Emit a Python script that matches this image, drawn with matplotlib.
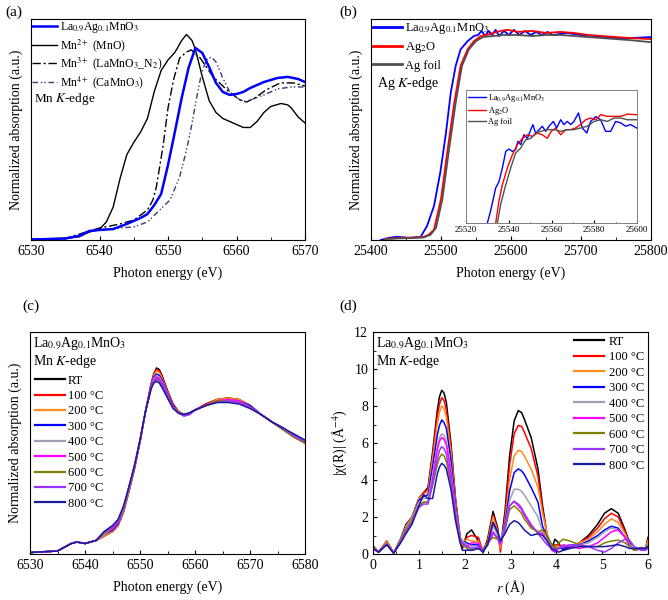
import matplotlib
matplotlib.use("Agg")
import matplotlib.pyplot as plt
from matplotlib.ticker import MultipleLocator, NullLocator

plt.rcParams['font.family'] = ['Liberation Serif', 'DejaVu Serif']
plt.rcParams['mathtext.fontset'] = 'stix'
plt.rcParams['xtick.direction'] = 'in'
plt.rcParams['ytick.direction'] = 'in'
plt.rcParams['axes.linewidth'] = 0.8

SAMPLE = "La$_{0.9}$Ag$_{0.1}$MnO$_3$"

# ---- (a) Mn K-edge XANES, references ----
e_lamo = [6530, 6535, 6537, 6538.5, 6540, 6542, 6544, 6546, 6547, 6548, 6549, 6550, 6551, 6552,
          6553, 6554, 6555, 6556, 6557, 6558, 6559, 6560, 6561, 6562, 6564, 6566, 6567.5, 6569, 6570]
mu_lamo = [0.003, 0.01, 0.027, 0.06, 0.067, 0.073, 0.107, 0.147, 0.173, 0.233, 0.307, 0.5, 0.72, 0.947,
           1.147, 1.28, 1.247, 1.153, 1.047, 0.987, 0.967, 0.973, 0.987, 1.013, 1.053, 1.08, 1.087, 1.073, 1.053]

e_mno = [6530, 6535, 6537, 6538.5, 6540, 6541, 6542, 6543, 6544, 6545, 6546, 6547, 6548, 6549, 6550,
         6551, 6552, 6552.7, 6553.5, 6554, 6555, 6556, 6557, 6558, 6559, 6560, 6561, 6562, 6563, 6564,
         6565, 6566.5, 6567.5, 6568, 6569, 6570]
mu_mno = [0.005, 0.011, 0.022, 0.053, 0.073, 0.12, 0.22, 0.41, 0.57, 0.65, 0.72, 0.81, 0.99, 1.13, 1.2,
          1.25, 1.33, 1.37, 1.33, 1.27, 1.09, 0.93, 0.85, 0.81, 0.79, 0.77, 0.75, 0.75, 0.79, 0.85,
          0.89, 0.91, 0.9, 0.88, 0.82, 0.78]

e_lmo = [6530, 6535, 6537.6, 6540, 6541.5, 6543, 6545, 6547, 6547.8, 6548.3, 6549.3, 6550, 6550.8,
         6551.7, 6552.7, 6553.4, 6554.7, 6556.6, 6558.6, 6560.5, 6561.5, 6562.9, 6564.3, 6566.4, 6568.3, 6570]
mu_lmo = [0.003, 0.01, 0.047, 0.08, 0.093, 0.107, 0.133, 0.2, 0.267, 0.353, 0.633, 0.88, 1.067,
          1.213, 1.253, 1.267, 1.213, 1.087, 1.0, 0.933, 0.92, 0.953, 1.0, 1.047, 1.047, 1.027]

e_cmo = [6530, 6535, 6537, 6539, 6541, 6543, 6545, 6547, 6548.8, 6550.3, 6551.7, 6552.7, 6553.4, 6554.2,
         6554.9, 6555.6, 6556.3, 6557, 6558, 6559, 6560, 6561.2, 6562, 6564, 6566, 6568, 6570]
mu_cmo = [0.003, 0.01, 0.02, 0.06, 0.073, 0.08, 0.087, 0.12, 0.2, 0.267, 0.42, 0.6, 0.753, 0.953,
          1.113, 1.2, 1.22, 1.187, 1.08, 0.987, 0.947, 0.92, 0.933, 0.967, 1.007, 1.02, 1.02]

# ---- (b) Ag K-edge XANES ----
e_ag_lamo = [25414, 25425, 25437, 25456, 25471, 25480, 25490, 25499, 25507, 25514, 25521, 25528, 25538,
             25547, 25553, 25558, 25563, 25568, 25573, 25578, 25583, 25590, 25597, 25604, 25612, 25620,
             25628, 25636, 25644, 25652, 25660, 25680, 25700, 25720, 25735, 25750, 25770, 25800]
mu_ag_lamo = [0.0, 0.01, 0.016, 0.01, 0.016, 0.068, 0.166, 0.33, 0.52, 0.72, 0.85, 0.93, 0.97,
              0.995, 1.0, 1.02, 0.995, 1.02, 1.0, 1.025, 0.995, 1.02, 1.0, 1.025, 1.0, 1.02,
              1.0, 1.015, 1.0, 1.015, 1.0, 1.01, 1.0, 0.995, 0.99, 0.985, 0.985, 0.99]

e_ag2o = [25420, 25440, 25460, 25475, 25482, 25490, 25500, 25509, 25519, 25528, 25538, 25547, 25557,
          25565, 25575, 25585, 25595, 25610, 25630, 25650, 25670, 25690, 25710, 25730, 25750, 25770, 25800]
mu_ag2o = [0.005, 0.01, 0.012, 0.015, 0.025, 0.05, 0.2, 0.43, 0.67, 0.85, 0.93, 0.97, 0.995,
           1.0, 1.01, 1.02, 1.025, 1.015, 1.02, 1.01, 1.015, 1.01, 1.0, 0.995, 0.99, 0.985, 0.98]

e_agfoil = [25420, 25440, 25460, 25475, 25485, 25493, 25502, 25511, 25521, 25530, 25540, 25550, 25560,
            25575, 25590, 25610, 25630, 25650, 25670, 25690, 25710, 25730, 25750, 25770, 25800]
mu_agfoil = [0.005, 0.008, 0.01, 0.012, 0.025, 0.06, 0.2, 0.43, 0.67, 0.85, 0.93, 0.97, 0.99,
             0.995, 1.0, 1.0, 0.995, 1.0, 1.0, 0.995, 0.99, 0.985, 0.98, 0.975, 0.965]

# inset, 25520-25600 eV
ie_lamo = [25530.0, 25531.5, 25533.9, 25535.4, 25537.0, 25538.6, 25540.1, 25541.7, 25543.2, 25544.3,
           25545.6, 25547.1, 25548.7, 25550.3, 25551.3, 25552.6, 25554.2, 25555.7, 25557.3, 25558.8,
           25560.9, 25562.4, 25564.3, 25565.8, 25567.4, 25569.0, 25570.5, 25572.6, 25574.4, 25576.5,
           25578.3, 25580.7, 25583.0, 25585.3, 25587.7, 25590.0, 25592.4, 25594.7, 25597.0, 25599.8]
imu_lamo = [0.55, 0.60, 0.695, 0.72, 0.777, 0.846, 0.856, 0.846, 0.853, 0.888,
            0.874, 0.915, 0.90, 0.936, 0.957, 0.92, 0.936, 0.95, 0.929, 0.95,
            0.97, 0.943, 0.977, 0.957, 0.97, 0.957, 0.97, 1.005, 0.943, 0.922,
            0.97, 0.99, 0.977, 0.929, 0.929, 0.97, 0.964, 0.95, 0.957, 0.943]
ie_ag2o = [25533.9, 25535.4, 25537.0, 25539.3, 25541.7, 25544.0, 25546.4, 25548.7, 25551.0, 25553.4,
           25555.7, 25558.0, 25559.9, 25561.9, 25564.3, 25566.6, 25569.0, 25571.3, 25573.6, 25576.0,
           25578.3, 25580.7, 25583.0, 25586.1, 25589.2, 25592.4, 25595.5, 25599.8]
imu_ag2o = [0.55, 0.64, 0.708, 0.777, 0.832, 0.874, 0.90, 0.915, 0.908, 0.922,
            0.915, 0.90, 0.929, 0.943, 0.915, 0.936, 0.936, 0.943, 0.957, 0.977,
            0.984, 0.977, 0.998, 0.991, 0.991, 0.991, 1.0, 0.998]
ie_agfoil = [25534.7, 25536.2, 25538.6, 25540.9, 25543.2, 25545.6, 25547.9, 25550.3, 25552.6, 25554.9,
             25558.0, 25561.2, 25564.3, 25567.4, 25570.5, 25573.6, 25576.7, 25579.9, 25583.0, 25586.1,
             25589.2, 25592.4, 25595.5, 25599.8]
imu_agfoil = [0.55, 0.626, 0.708, 0.777, 0.839, 0.86, 0.894, 0.90, 0.922, 0.929,
              0.936, 0.936, 0.929, 0.936, 0.936, 0.943, 0.95, 0.97, 0.977, 0.97,
              0.984, 0.984, 0.977, 0.977]

# ---- (c) in situ Mn K-edge XANES ----
temps = ["RT", "100 °C", "200 °C", "300 °C", "400 °C", "500 °C", "600 °C", "700 °C", "800 °C"]
temp_colors = ["#000000", "#FF0000", "#FF8C1A", "#0000FF", "#A0A0B4", "#FF00FF", "#808000", "#9933FF", "#1A1AA0"]

e_insitu = [6530, 6535, 6536, 6537.5, 6538.5, 6540, 6541, 6542, 6543.5, 6545, 6546, 6547, 6548, 6549,
            6550, 6551, 6552, 6552.5, 6553, 6553.5, 6554, 6555, 6556, 6557, 6558, 6559, 6560, 6562,
            6564, 6566, 6568, 6570, 6572, 6574, 6576, 6578, 6580]
pre = [0.01, 0.02, 0.04, 0.07, 0.08, 0.07, 0.08, 0.09]
mu_rt = pre + [0.12, 0.15, 0.19, 0.28, 0.42, 0.57, 0.75, 0.95, 1.13, 1.20, 1.24, 1.23, 1.19, 1.09, 1.00,
               0.95, 0.93, 0.94, 0.96, 1.00, 1.03, 1.04, 1.03, 0.99, 0.93, 0.88, 0.84, 0.79, 0.74]
mu_100 = pre + [0.12, 0.15, 0.19, 0.28, 0.42, 0.57, 0.75, 0.95, 1.13, 1.20, 1.23, 1.22, 1.18, 1.08, 1.00,
                0.95, 0.93, 0.94, 0.96, 1.00, 1.03, 1.04, 1.03, 0.99, 0.93, 0.88, 0.83, 0.78, 0.74]
mu_200 = pre + [0.12, 0.15, 0.19, 0.28, 0.42, 0.57, 0.75, 0.95, 1.12, 1.19, 1.22, 1.21, 1.17, 1.08, 0.99,
                0.95, 0.93, 0.94, 0.96, 0.99, 1.03, 1.04, 1.03, 0.99, 0.93, 0.88, 0.83, 0.78, 0.74]
mu_300 = pre + [0.13, 0.16, 0.20, 0.29, 0.43, 0.58, 0.75, 0.95, 1.12, 1.18, 1.20, 1.19, 1.16, 1.07, 0.99,
                0.94, 0.93, 0.94, 0.96, 0.99, 1.02, 1.03, 1.02, 0.99, 0.93, 0.88, 0.84, 0.79, 0.75]
mu_400 = pre + [0.13, 0.17, 0.21, 0.29, 0.43, 0.58, 0.75, 0.95, 1.11, 1.17, 1.19, 1.18, 1.15, 1.06, 0.98,
                0.94, 0.93, 0.94, 0.96, 0.99, 1.02, 1.03, 1.02, 0.98, 0.93, 0.88, 0.83, 0.78, 0.74]
mu_500 = pre + [0.14, 0.17, 0.21, 0.30, 0.44, 0.58, 0.75, 0.95, 1.11, 1.16, 1.18, 1.17, 1.14, 1.06, 0.98,
                0.94, 0.92, 0.93, 0.96, 0.99, 1.02, 1.03, 1.02, 0.98, 0.93, 0.88, 0.83, 0.78, 0.74]
mu_600 = pre + [0.14, 0.18, 0.22, 0.30, 0.44, 0.59, 0.76, 0.95, 1.10, 1.15, 1.16, 1.15, 1.12, 1.05, 0.98,
                0.94, 0.93, 0.94, 0.96, 0.99, 1.02, 1.02, 1.01, 0.98, 0.93, 0.88, 0.83, 0.78, 0.74]
mu_700 = pre + [0.15, 0.18, 0.22, 0.31, 0.45, 0.59, 0.76, 0.95, 1.10, 1.15, 1.17, 1.16, 1.13, 1.05, 0.98,
                0.94, 0.92, 0.93, 0.96, 0.99, 1.01, 1.02, 1.01, 0.98, 0.93, 0.88, 0.84, 0.79, 0.75]
mu_800 = pre + [0.15, 0.19, 0.23, 0.32, 0.45, 0.59, 0.76, 0.95, 1.10, 1.14, 1.15, 1.14, 1.11, 1.04, 0.97,
                0.94, 0.93, 0.94, 0.96, 0.99, 1.01, 1.01, 1.00, 0.97, 0.93, 0.88, 0.84, 0.80, 0.76]
mu_insitu = [mu_rt, mu_100, mu_200, mu_300, mu_400, mu_500, mu_600, mu_700, mu_800]

# ---- (d) FT-EXAFS |chi(R)| ----
r = [0, 0.12, 0.3, 0.45, 0.6, 0.72, 0.85, 1.0, 1.1, 1.2, 1.3, 1.4, 1.45, 1.5, 1.55, 1.6, 1.7, 1.8,
     1.9, 1.95, 2.05, 2.15, 2.3, 2.4, 2.5, 2.62, 2.72, 2.78, 2.88, 2.98, 3.08, 3.17, 3.24, 3.3, 3.45,
     3.6, 3.7, 3.8, 3.9, 3.97, 4.05, 4.15, 4.3, 4.5, 4.7, 4.9, 5.05, 5.2, 5.35, 5.5, 5.6, 5.7, 5.85,
     5.95, 6.0]
chi_rt = [0.45, 0.1, 0.7, 0.05, 0.8, 1.6, 2.0, 3.0, 3.3, 3.6, 5.5, 7.7, 8.5, 8.85, 8.7, 8.2, 6.0, 3.0,
          0.9, 0.3, 1.1, 1.3, 0.7, 0.05, 0.8, 2.3, 1.4, 0.3, 2.3, 5.3, 7.2, 7.75, 7.65, 7.3, 6.3,
          4.6, 2.6, 1.0, 0.3, 0.8, 0.6, 0.2, 0.35, 0.6, 1.0, 1.6, 2.2, 2.45, 2.2, 1.3, 0.6, 0.2, 0.35,
          0.3, 0.9]
chi_100 = [0.4, 0.1, 0.7, 0.05, 0.75, 1.5, 2.0, 3.0, 3.3, 3.5, 5.3, 7.4, 8.1, 8.45, 8.3, 7.8, 5.8, 2.9,
           0.9, 0.4, 0.9, 1.0, 0.9, 0.1, 0.7, 2.1, 1.3, 0.1, 2.0, 4.8, 6.5, 6.95, 6.9, 6.6, 5.7,
           4.2, 2.4, 1.0, 0.3, 0.5, 0.5, 0.3, 0.4, 0.6, 0.9, 1.4, 1.9, 2.2, 2.0, 1.2, 0.5, 0.2, 0.3,
           0.3, 0.8]
chi_200 = [0.4, 0.1, 0.7, 0.05, 0.75, 1.5, 2.0, 3.0, 3.2, 3.4, 5.1, 7.0, 7.65, 8.0, 7.85, 7.4, 5.5, 2.8,
           0.9, 0.6, 0.8, 0.7, 0.7, 0.1, 0.6, 2.0, 1.2, 0.3, 1.8, 4.0, 5.3, 5.6, 5.55, 5.3, 4.6,
           3.6, 2.2, 1.1, 0.4, 0.4, 0.4, 0.3, 0.4, 0.6, 0.8, 1.2, 1.6, 1.9, 1.7, 1.1, 0.5, 0.2, 0.3,
           0.3, 0.7]
chi_300 = [0.35, 0.1, 0.6, 0.05, 0.7, 1.4, 1.9, 2.9, 3.1, 3.2, 4.7, 6.4, 6.95, 7.25, 7.1, 6.8, 5.1, 2.6,
           0.9, 0.7, 0.6, 0.5, 0.5, 0.2, 0.5, 1.7, 1.1, 0.7, 1.6, 3.4, 4.4, 4.6, 4.5, 4.3, 3.6,
           2.8, 1.5, 0.9, 0.5, 0.3, 0.3, 0.3, 0.4, 0.5, 0.7, 1.0, 1.3, 1.5, 1.4, 0.9, 0.5, 0.3, 0.3,
           0.3, 0.5]
chi_400 = [0.35, 0.1, 0.6, 0.05, 0.7, 1.4, 1.9, 2.8, 3.0, 3.0, 4.3, 5.8, 6.3, 6.5, 6.4, 6.1, 4.6, 2.4,
           0.9, 0.7, 0.5, 0.4, 0.3, 0.2, 0.5, 1.5, 1.0, 0.8, 1.5, 2.9, 3.5, 3.5, 3.4, 3.2, 2.6,
           2.0, 1.2, 0.8, 0.4, 0.2, 0.3, 0.4, 0.5, 0.5, 0.6, 0.9, 1.2, 1.4, 1.3, 0.9, 0.5, 0.3, 0.3,
           0.3, 0.5]
chi_500 = [0.3, 0.1, 0.55, 0.05, 0.65, 1.3, 1.8, 2.6, 2.8, 2.8, 4.0, 5.6, 6.1, 6.3, 6.2, 5.9, 4.4, 2.2,
           0.8, 0.6, 0.4, 0.6, 0.6, 0.2, 0.5, 1.2, 0.8, 0.5, 1.4, 2.6, 2.85, 2.6, 2.4, 2.1, 1.5,
           1.2, 1.1, 0.7, 0.2, 0.1, 0.3, 0.5, 0.4, 0.3, 0.4, 0.6, 0.9, 1.2, 1.3, 0.9, 0.4, 0.2, 0.3,
           0.3, 0.4]
chi_600 = [0.3, 0.1, 0.55, 0.05, 0.65, 1.3, 1.8, 2.6, 2.8, 2.8, 3.7, 4.8, 5.2, 5.4, 5.3, 5.0, 3.8, 2.0,
           0.8, 0.5, 0.3, 0.2, 0.3, 0.3, 0.6, 0.9, 0.8, 0.7, 1.3, 2.4, 2.6, 2.4, 2.2, 1.9, 1.4,
           1.2, 1.3, 1.0, 0.5, 0.3, 0.6, 0.8, 0.7, 0.5, 0.4, 0.4, 0.6, 0.7, 0.75, 0.6, 0.4, 0.2, 0.3,
           0.3, 0.4]
chi_700 = [0.3, 0.1, 0.5, 0.05, 0.6, 1.2, 1.7, 2.5, 2.7, 2.7, 3.8, 5.1, 5.6, 5.8, 5.7, 5.4, 4.0, 2.0,
           0.7, 0.6, 0.4, 0.3, 0.4, 0.2, 0.5, 1.1, 0.9, 0.6, 1.4, 2.6, 2.85, 2.7, 2.5, 2.2, 1.6,
           1.1, 0.8, 0.5, 0.3, 0.2, 0.3, 0.4, 0.5, 0.5, 0.4, 0.2, 0.1, 0.3, 0.6, 0.8, 0.75, 0.4, 0.2,
           0.2, 0.3]
chi_800 = [0.3, 0.1, 0.5, 0.05, 0.6, 1.1, 1.6, 2.6, 3.2, 3.0, 3.0, 4.3, 4.7, 4.9, 4.8, 4.6, 3.5, 1.8,
           0.6, 0.2, 0.2, 0.2, 0.3, 0.1, 0.5, 1.7, 1.2, 0.7, 1.1, 1.6, 1.8, 1.7, 1.5, 1.3, 1.0,
           1.1, 1.0, 0.7, 0.3, 0.2, 0.1, 0.2, 0.3, 0.4, 0.4, 0.4, 0.4, 0.45, 0.5, 0.4, 0.3, 0.3, 0.3,
           0.3, 0.4]
chi_all = [chi_rt, chi_100, chi_200, chi_300, chi_400, chi_500, chi_600, chi_700, chi_800]


fig = plt.figure(figsize=(6.68, 6.0), dpi=100)
W, H = 668.0, 600.0


def box(l, t, r_, b):
    # axes rectangle from pixel edges
    return [l / W, 1 - b / H, (r_ - l) / W, (b - t) / H]


TICK = 10
SMALL = 9

# ---------------- (a) ----------------
axa = fig.add_axes(box(31, 19, 305, 240))
axa.plot(e_mno, mu_mno, color="black", lw=1.0, label="Mn$^{2+}$ (MnO)")
axa.plot(e_lmo, mu_lmo, color="black", lw=1.0, ls=(0, (6, 2, 1.5, 2)), label="Mn$^{3+}$ (LaMnO$_{3}$_N$_2$)")
axa.plot(e_cmo, mu_cmo, color="#3a3a70", lw=1.0, ls=(0, (4, 2, 1, 1.5, 1, 2)), label="Mn$^{4+}$ (CaMnO$_3$)")
axa.plot(e_lamo, mu_lamo, color="#0000FF", lw=1.8, label=SAMPLE)
axa.set_xlim(6530, 6570)
axa.set_ylim(0, 1.473)
axa.xaxis.set_major_locator(MultipleLocator(10))
axa.xaxis.set_minor_locator(MultipleLocator(5))
axa.yaxis.set_major_locator(NullLocator())
axa.tick_params(labelsize=TICK, length=3)
axa.tick_params(which="minor", length=2)
axa.set_xlabel("Photon energy (eV)", fontsize=TICK, labelpad=6)
axa.set_ylabel("Normalized absorption (a.u.)", fontsize=TICK, labelpad=6)
h, l = axa.get_legend_handles_labels()
order = [3, 0, 1, 2]
axa.legend([h[i] for i in order], [l[i] for i in order], loc="upper left", frameon=False,
           fontsize=8.5, handlelength=2.1, handletextpad=0.25, labelspacing=0.15,
           borderaxespad=0.05, borderpad=0.05)
axa.text(0.01, 0.64, "Mn $K$-edge", transform=axa.transAxes, fontsize=SMALL + 0.5, va="center")
fig.text(5 / W, 1 - 12 / H, "(a)", fontsize=11, va="center")

# ---------------- (b) ----------------
axb = fig.add_axes(box(371, 19, 651, 240))
axb.plot(e_ag_lamo, mu_ag_lamo, color="#0000FF", lw=1.3, label=SAMPLE)
axb.plot(e_ag2o, mu_ag2o, color="#FF0000", lw=1.3, label="Ag$_2$O")
axb.plot(e_agfoil, mu_agfoil, color="#505050", lw=1.3, label="Ag foil")
axb.set_xlim(25400, 25800)
axb.set_ylim(0, 1.078)
axb.xaxis.set_major_locator(MultipleLocator(100))
axb.xaxis.set_minor_locator(MultipleLocator(50))
axb.yaxis.set_major_locator(NullLocator())
axb.tick_params(labelsize=TICK, length=3)
axb.tick_params(which="minor", length=2)
axb.set_xlabel("Photon energy (eV)", fontsize=TICK, labelpad=6)
axb.set_ylabel("Normalized absorption (a.u.)", fontsize=TICK, labelpad=6)
leg = axb.legend(loc="upper left", frameon=False, fontsize=9, handlelength=2.3,
                 handletextpad=0.3, labelspacing=0.35, borderaxespad=0.05, borderpad=0.1)
for ln in leg.get_lines():
    ln.set_linewidth(2.0)
axb.text(0.02, 0.71, "Ag $K$-edge", transform=axb.transAxes, fontsize=SMALL + 1, va="center")
fig.text(339 / W, 1 - 12 / H, "(b)", fontsize=11, va="center")

# inset
axi = fig.add_axes(box(466, 90, 637, 223))
axi.plot(ie_lamo, imu_lamo, color="#0000FF", lw=1.0, label=SAMPLE)
axi.plot(ie_ag2o, imu_ag2o, color="#FF0000", lw=1.0, label="Ag$_2$O")
axi.plot(ie_agfoil, imu_agfoil, color="#505050", lw=1.0, label="Ag foil")
axi.set_xlim(25520, 25600)
axi.set_ylim(0.55, 1.10)
axi.xaxis.set_major_locator(MultipleLocator(20))
axi.xaxis.set_minor_locator(MultipleLocator(10))
axi.yaxis.set_major_locator(NullLocator())
axi.tick_params(labelsize=6.5, length=2, pad=2)
axi.tick_params(which="minor", length=1)
for sp in axi.spines.values():
    sp.set_color("#808080")
    sp.set_linewidth(0.7)
axi.legend(loc="upper left", frameon=False, fontsize=6, handlelength=2.2, handletextpad=0.3,
           labelspacing=0.15, borderaxespad=0.1, borderpad=0.1)

# ---------------- (c) ----------------
axc = fig.add_axes(box(30, 332, 305, 554))
for name, col, mu in zip(temps, temp_colors, mu_insitu):
    axc.plot(e_insitu, mu, color=col, lw=1.1, label=name)
axc.set_xlim(6530, 6580)
axc.set_ylim(0, 1.48)
axc.xaxis.set_major_locator(MultipleLocator(10))
axc.xaxis.set_minor_locator(MultipleLocator(5))
axc.yaxis.set_major_locator(NullLocator())
axc.tick_params(labelsize=TICK, length=3)
axc.tick_params(which="minor", length=2)
axc.set_xlabel("Photon energy (eV)", fontsize=TICK, labelpad=6)
axc.set_ylabel("Normalized absorption (a.u.)", fontsize=TICK, labelpad=6)
axc.text(0.01, 0.95, SAMPLE, transform=axc.transAxes, fontsize=SMALL + 1, va="center")
axc.text(0.01, 0.865, "Mn $K$-edge", transform=axc.transAxes, fontsize=SMALL + 1, va="center")
leg = axc.legend(loc="upper left", bbox_to_anchor=(0.0, 0.83), frameon=False, fontsize=9,
                 handlelength=2.4, handletextpad=0.25, labelspacing=0.27, borderaxespad=0.2,
                 borderpad=0.2)
for ln in leg.get_lines():
    ln.set_linewidth(1.6)
fig.text(22 / W, 1 - 306 / H, "(c)", fontsize=11, va="center")

# ---------------- (d) ----------------
axd = fig.add_axes(box(373, 332, 648, 554))
for name, col, chi in zip(temps, temp_colors, chi_all):
    axd.plot(r, chi, color=col, lw=1.1, label=name)
axd.set_xlim(0, 6)
axd.set_ylim(0, 12)
axd.xaxis.set_major_locator(MultipleLocator(1))
axd.xaxis.set_minor_locator(MultipleLocator(0.5))
axd.yaxis.set_major_locator(MultipleLocator(2))
axd.yaxis.set_minor_locator(MultipleLocator(1))
axd.tick_params(labelsize=TICK, length=3)
axd.tick_params(which="minor", length=2)
axd.set_xlabel("$r$ (Å)", fontsize=TICK, labelpad=5)
axd.set_ylabel("|χ(R)| (Å$^{-4}$)", fontsize=TICK, labelpad=4)
axd.text(0.01, 0.95, SAMPLE, transform=axd.transAxes, fontsize=SMALL + 1, va="center")
axd.text(0.01, 0.865, "Mn $K$-edge", transform=axd.transAxes, fontsize=SMALL + 1, va="center")
leg = axd.legend(loc="upper right", frameon=False, fontsize=9, handlelength=2.4,
                 handletextpad=0.4, labelspacing=0.28, borderaxespad=0.1, borderpad=0.2)
for ln in leg.get_lines():
    ln.set_linewidth(1.6)
fig.text(339 / W, 1 - 306 / H, "(d)", fontsize=11, va="center")

fig.savefig("out.png", dpi=100)
